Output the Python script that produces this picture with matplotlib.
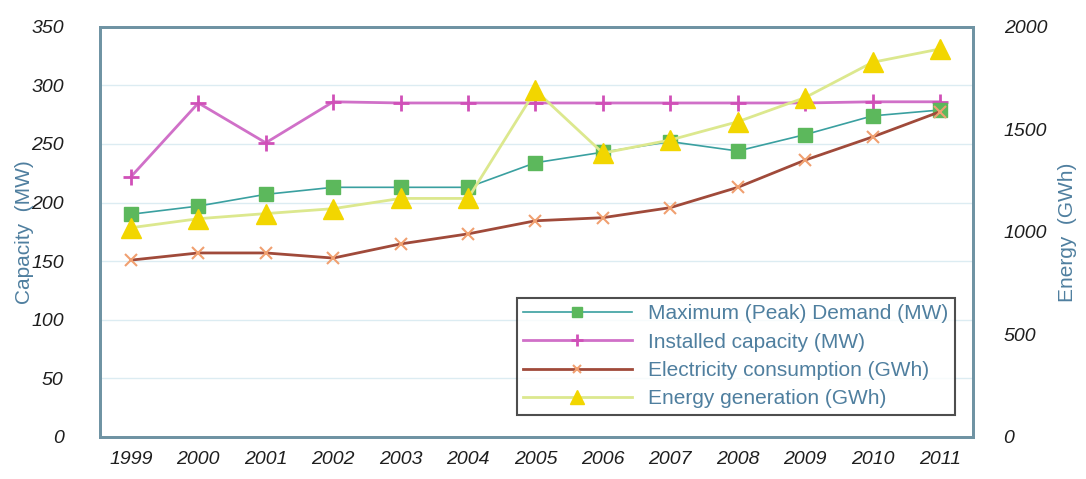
import numpy as np
import matplotlib
matplotlib.use("Agg")
import matplotlib.pyplot as plt

plt.rcParams['font.family'] = ['Liberation Sans', 'DejaVu Sans']

years = ["1999", "2000", "2001", "2002", "2003", "2004", "2005",
         "2006", "2007", "2008", "2009", "2010", "2011"]
peak_demand = [190, 197, 207, 213, 213, 213, 234, 243, 252, 244, 258, 274, 279]
installed_cap = [222, 285, 251, 286, 285, 285, 285, 285, 285, 285, 285, 286, 286]
consumption = [862, 897, 897, 872, 941, 990, 1054, 1069, 1118, 1217, 1350, 1463, 1586]
generation = [1020, 1064, 1089, 1113, 1163, 1163, 1690, 1384, 1448, 1537, 1655, 1827, 1892]

x = np.arange(len(years))

fig = plt.figure(figsize=(10.86, 4.79), dpi=100)
ax = fig.add_axes([0.092, 0.088, 0.804, 0.856])
ax2 = ax.twinx()

frame_col = "#6f93a3"
text_col = "#4f7f9f"

ax.plot(x, peak_demand, color="#3aa0a0", lw=1.2, marker="s", ms=10,
        mfc="#5cb85c", mec="#5cb85c", label="Maximum (Peak) Demand (MW)", zorder=4)
ax.plot(x, installed_cap, color="#d070c8", lw=2.0, marker="+", ms=12, mew=2,
        mec="#d050b8", label="Installed capacity (MW)", zorder=3)

l3, = ax2.plot(x, consumption, color="#a04a3a", lw=2.0, marker="x", ms=9, mew=1.5,
               mec="#f0a070", label="Electricity consumption (GWh)", zorder=3)
l4, = ax2.plot(x, generation, color="#dce88e", lw=2.0, marker="^", ms=14,
               mfc="#f2d600", mec="#f2d600", label="Energy generation (GWh)", zorder=4)

ax.set_xlim(-0.46, 12.49)
ax.set_ylim(0, 350)
ax2.set_ylim(0, 2000)
ax.set_yticks(np.arange(0, 351, 50))
ax2.set_yticks(np.arange(0, 2001, 500))
ax.set_xticks(x)
ax.set_xticklabels(years)

ax.grid(axis="y", color="#dcecf2", lw=1.0)
ax.set_axisbelow(True)

for a in (ax, ax2):
    a.tick_params(length=0, labelsize=14, labelcolor="#1e1e1e")
    for s in a.spines.values():
        s.set_color(frame_col)
        s.set_linewidth(2)
ax.tick_params(axis="y", pad=26)
ax.tick_params(axis="x", pad=10)
ax2.tick_params(axis="y", pad=22)
for lab in ax.get_yticklabels() + ax2.get_yticklabels() + ax.get_xticklabels():
    lab.set_style("italic")

ax.set_ylabel("Capacity  (MW)", color=text_col, fontsize=15)
ax.yaxis.set_label_coords(-0.076, 0.5)
ax2.set_ylabel("Energy  (GWh)", color=text_col, fontsize=15, rotation=90, labelpad=8)

h1, lb1 = ax.get_legend_handles_labels()
leg = ax2.legend(h1 + [l3, l4], lb1 + [l3.get_label(), l4.get_label()],
                 loc="lower right", bbox_to_anchor=(0.979, 0.054), borderaxespad=0,
                 fontsize=15, frameon=True, fancybox=False, handlelength=5.2,
                 borderpad=0.3, labelspacing=0.45, markerscale=0.7)
leg.get_frame().set_edgecolor("#222222")
leg.get_frame().set_linewidth(1.5)
for t in leg.get_texts():
    t.set_color(text_col)

fig.savefig("out.png", dpi=100)
